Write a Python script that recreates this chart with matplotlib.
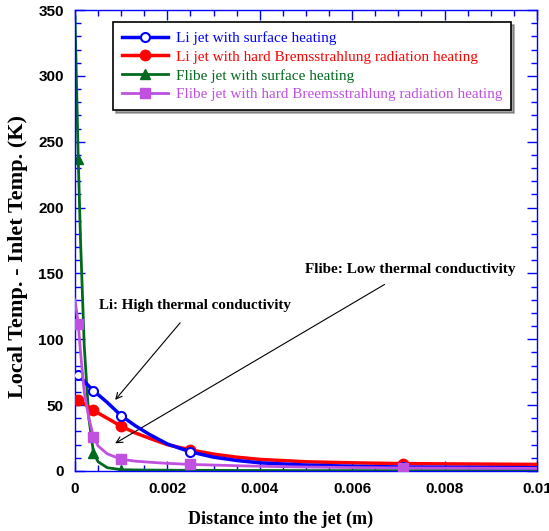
import numpy as np
import matplotlib.pyplot as plt
from matplotlib.ticker import MultipleLocator

# Data
x_pts = [0.0, 0.00007, 0.00012, 0.0002, 0.0003, 0.0004, 0.0005, 0.0007, 0.001, 0.0013,
         0.0016, 0.002, 0.0025, 0.003, 0.0035, 0.004, 0.005, 0.006, 0.0071, 0.01]
li_surf = [75, 73, 71, 68, 64.5, 61, 58, 52, 42, 34.5, 28, 20.5, 14.5, 10.5, 8, 6.2, 4.5, 3.6, 3, 2.5]
li_brem = [55, 54, 53, 51, 48.5, 46, 44, 40, 34, 29, 25, 20, 16, 12.8, 10.5, 8.8, 7, 6.2, 5.6, 5]
flibe_surf = [345, 237, 175, 95, 40, 14, 7, 2.5, 1, 0.8, 0.7, 0.6, 0.5, 0.5, 0.4, 0.4, 0.3, 0.3, 0.3, 0.3]
flibe_brem = [130, 112, 90, 60, 40, 26, 19, 13, 8.9, 7.5, 6.7, 5.8, 5, 4.5, 4, 3.6, 3, 2.6, 2.3, 2]
mark_idx = [1, 5, 8, 12, 18]

labels = ["Li jet with surface heating",
          "Li jet with hard Bremsstrahlung radiation heating",
          "Flibe jet with surface heating",
          "Flibe jet with hard Breemsstrahlung radiation heating"]
colors = ["#0000ff", "#ff0000", "#006a1e", "#c050e0"]

serif = "Liberation Serif"
sans = "Liberation Sans"

fig = plt.figure(figsize=(5.49, 5.31), dpi=100)
ax = fig.add_axes([0.1366, 0.113, 0.8414, 0.868])

ax.plot(x_pts, li_surf, color=colors[0], lw=2.5, marker='o', ms=6.5, mfc='white',
        mec=colors[0], mew=1.5, markevery=mark_idx, label=labels[0], zorder=4)
ax.plot(x_pts, li_brem, color=colors[1], lw=2.5, marker='o', ms=7.5,
        markevery=mark_idx, label=labels[1], zorder=3)
ax.plot(x_pts, flibe_surf, color=colors[2], lw=2, marker='^', ms=7.5,
        markevery=mark_idx, label=labels[2], zorder=2)
ax.plot(x_pts, flibe_brem, color=colors[3], lw=2, marker='s', ms=7.5,
        markevery=mark_idx, label=labels[3], zorder=5)

ax.set_xlim(0, 0.01)
ax.set_ylim(0, 350)
ax.xaxis.set_minor_locator(MultipleLocator(0.0005))
ax.yaxis.set_major_locator(MultipleLocator(50))
ax.yaxis.set_minor_locator(MultipleLocator(10))
ax.set_xticks([0, 0.002, 0.004, 0.006, 0.008, 0.01])
ax.set_xticklabels(["0", "0.002", "0.004", "0.006", "0.008", "0.01"])

for s in ax.spines.values():
    s.set_color("#0000ff")
    s.set_linewidth(1)
ax.tick_params(which='both', direction='in', top=True, right=True, colors="#0000ff",
               labelcolor='black')
ax.tick_params(which='major', length=7, width=1)
ax.tick_params(which='minor', length=4, width=1)
for lab in ax.get_xticklabels() + ax.get_yticklabels():
    lab.set_fontfamily(sans)
    lab.set_fontweight('bold')
    lab.set_fontsize(11)
ax.tick_params(axis='x', pad=8)
ax.tick_params(axis='y', pad=8)

ax.set_xlabel("Distance into the jet (m)", fontfamily=serif, fontweight='bold', fontsize=13)
ax.set_ylabel("Local Temp. - Inlet Temp. (K)", fontfamily=serif, fontweight='bold', fontsize=16)
ax.xaxis.set_label_coords(0.444, -0.104)
ax.yaxis.set_label_coords(-0.124, 0.466)
ax.xaxis.label.set_va('center')
ax.yaxis.label.set_va('center')

leg = ax.legend(loc='upper left', bbox_to_anchor=(0.082, 0.974), borderaxespad=0,
                fancybox=False, shadow=True, framealpha=1, edgecolor='black',
                prop={'family': serif, 'size': 11}, handlelength=3.0,
                labelspacing=0.33, borderpad=0.6, handletextpad=0.5)
leg.get_frame().set_linewidth(1.2)
for txt, c in zip(leg.get_texts(), colors):
    txt.set_color(c)

ax.annotate("Li: High thermal conductivity", xy=(0.00087, 54), xytext=(0.0026, 126),
            ha='center', va='center', fontfamily=serif, fontweight='bold', fontsize=10.8,
            arrowprops=dict(arrowstyle='->', color='black', lw=0.8,
                            shrinkA=8, shrinkB=0))
ax.annotate("Flibe: Low thermal conductivity", xy=(0.00087, 21), xytext=(0.00725, 153),
            ha='center', va='center', fontfamily=serif, fontweight='bold', fontsize=11,
            arrowprops=dict(arrowstyle='->', color='black', lw=0.8,
                            shrinkA=8, shrinkB=0))

fig.savefig("out.png", dpi=100)
